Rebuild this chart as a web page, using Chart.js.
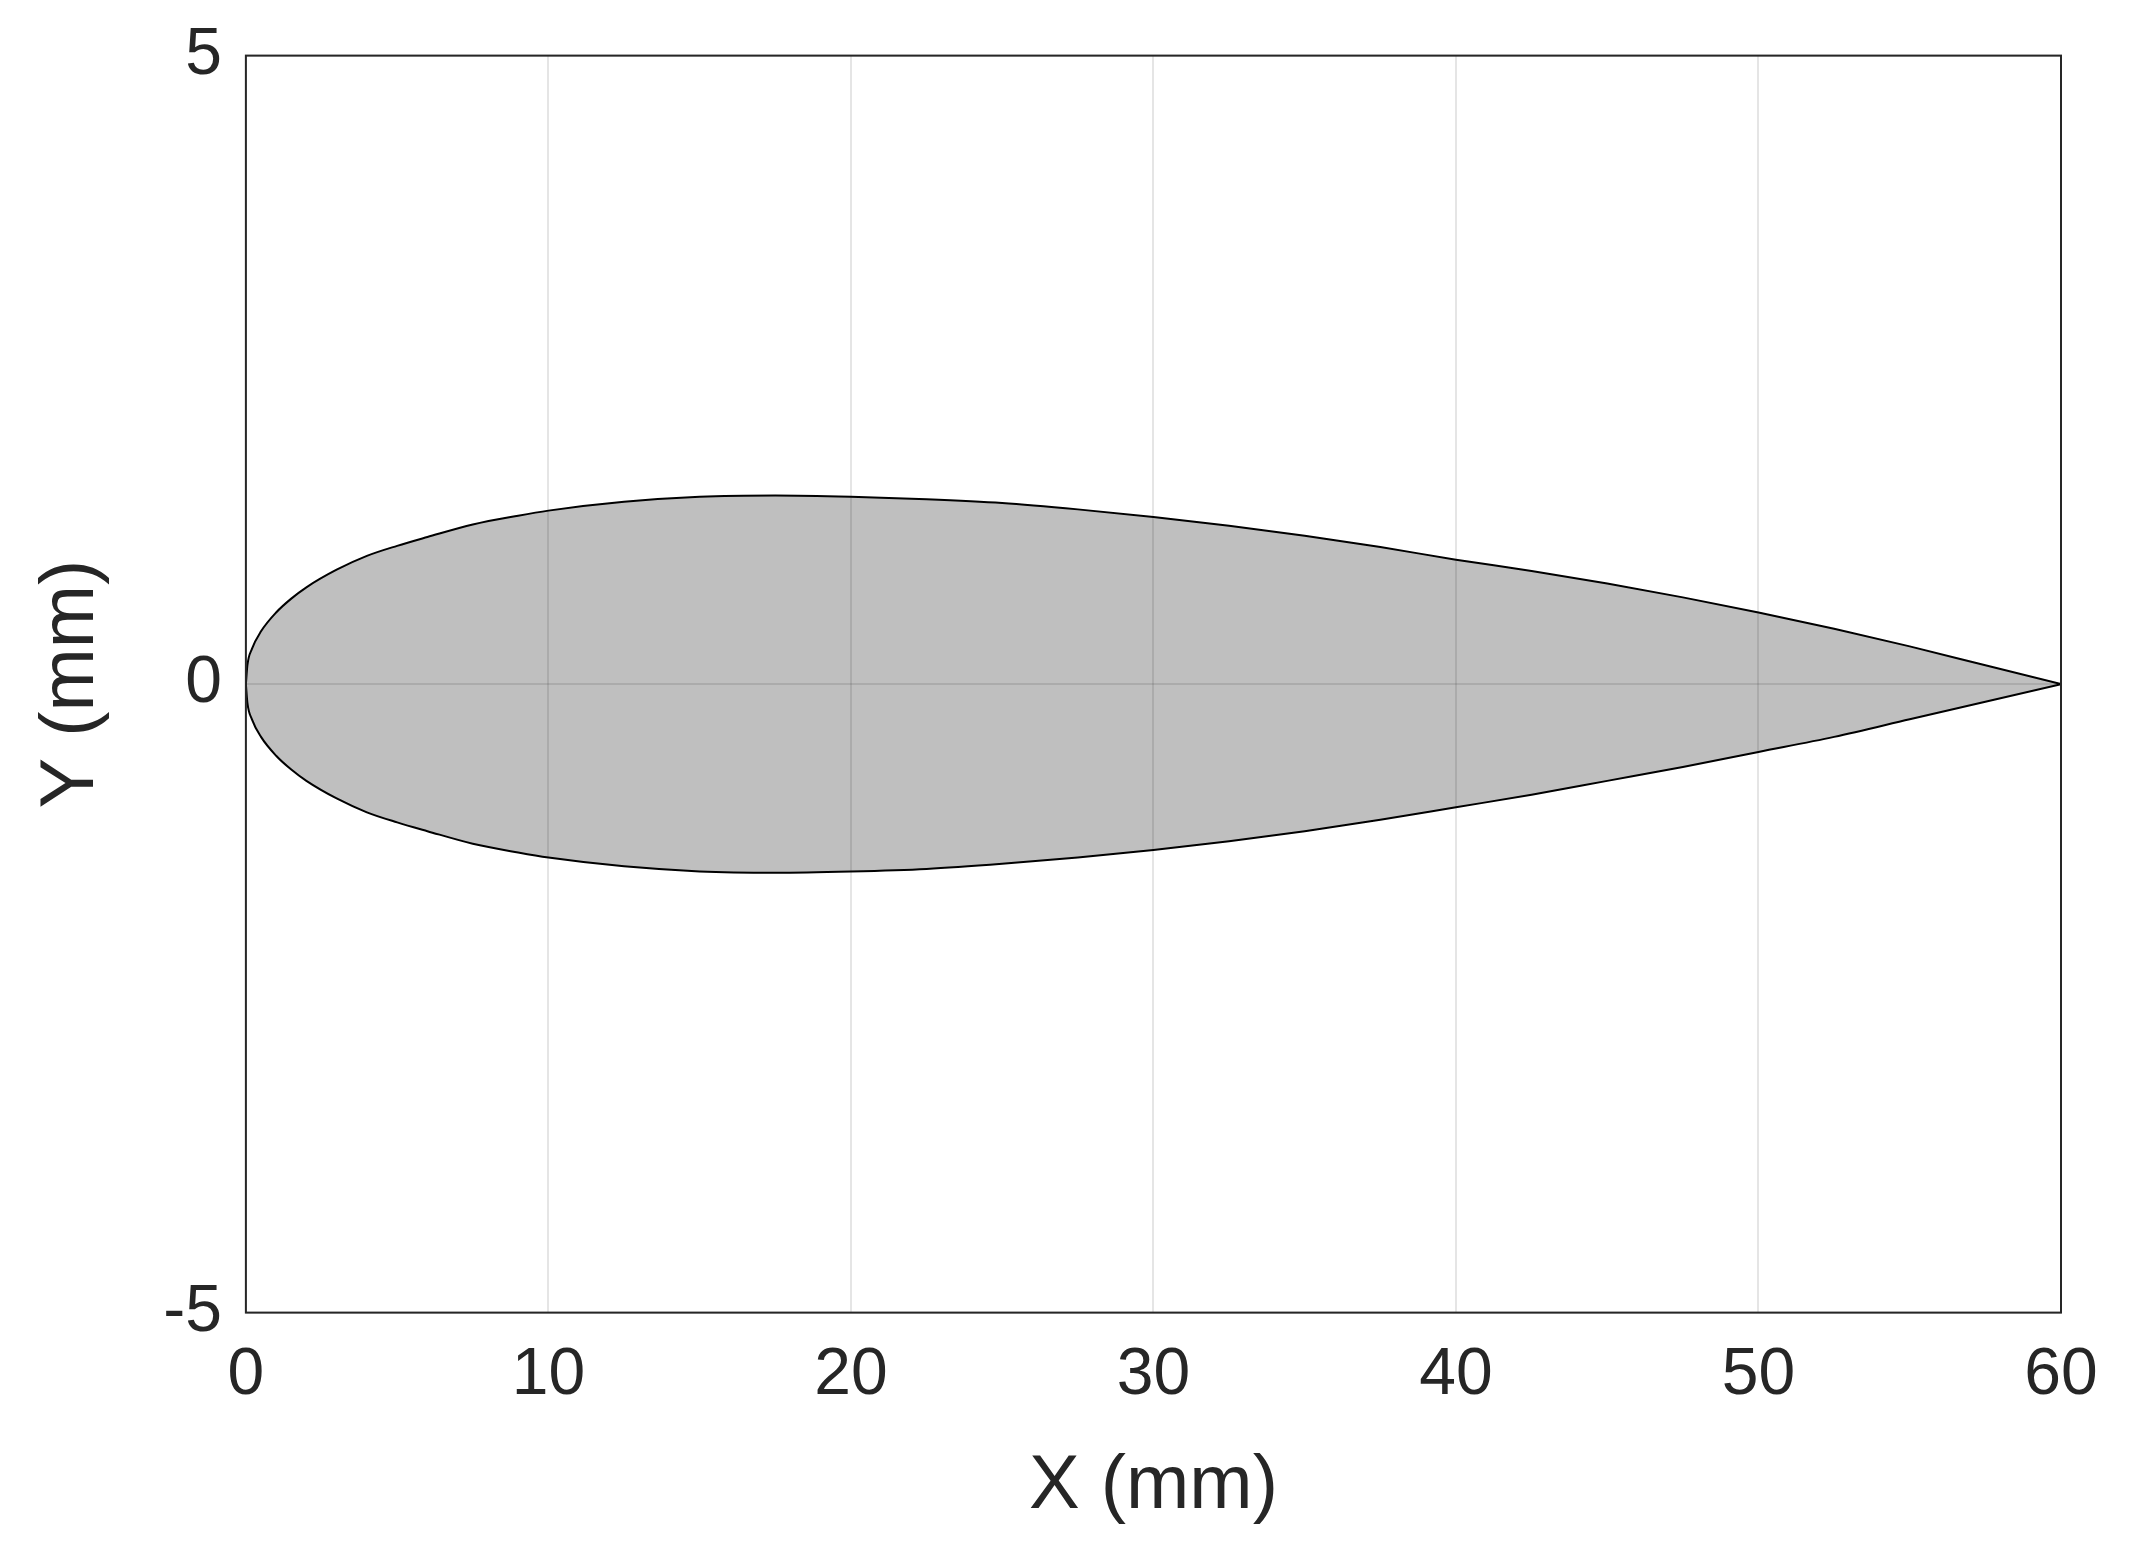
<!DOCTYPE html>
<html>
<head>
<meta charset="utf-8">
<script src="https://cdn.jsdelivr.net/npm/chart.js@4/dist/chart.umd.min.js"></script>
<style>
  html, body { margin: 0; padding: 0; background: #fff; }
  #wrap { width: 2139px; height: 1567px; }
</style>
</head>
<body>
<div id="wrap"><canvas id="c"></canvas></div>
<script>
// airfoil outline (mm)
const xPts = [0, 0.05, 0.2, 0.5, 1, 1.5, 2, 3, 4, 5, 6, 7.5, 9, 10, 12.5, 15, 17.5, 20, 22.5, 25, 27.5, 30, 32.5, 35, 37.5, 40, 42.5, 45, 47.5, 50, 52.5, 55, 57.5, 60];
const upperY = [0, 0.15, 0.28, 0.42, 0.57, 0.68, 0.77, 0.91, 1.02, 1.1, 1.17, 1.27, 1.34, 1.38, 1.45, 1.49, 1.5, 1.49, 1.47, 1.44, 1.39, 1.33, 1.26, 1.18, 1.09, 0.99, 0.9, 0.8, 0.69, 0.57, 0.44, 0.3, 0.15, 0];
const lowerY = [0, -0.15, -0.28, -0.42, -0.57, -0.68, -0.77, -0.91, -1.02, -1.1, -1.17, -1.27, -1.34, -1.38, -1.45, -1.49, -1.5, -1.49, -1.47, -1.43, -1.38, -1.32, -1.25, -1.17, -1.08, -0.98, -0.88, -0.77, -0.66, -0.54, -0.42, -0.28, -0.14, 0];
const xTicks = [0, 10, 20, 30, 40, 50, 60];
const yTicks = [-5, 0, 5];

const FONT = 'Liberation Sans, Arial, sans-serif';

// grid over the fill plus the dark box, as in the original
const boxPlugin = {
    id: 'box',
    afterDatasetsDraw(chart) {
        const a = chart.chartArea, ctx = chart.ctx;
        const sx = chart.scales.x, sy = chart.scales.y;
        ctx.save();
        ctx.strokeStyle = 'rgba(0,0,0,0.1)';
        ctx.lineWidth = 2;
        xTicks.forEach(v => {
            const p = Math.round(sx.getPixelForValue(v));
            ctx.beginPath(); ctx.moveTo(p, a.top); ctx.lineTo(p, a.bottom); ctx.stroke();
        });
        yTicks.forEach(v => {
            const p = Math.round(sy.getPixelForValue(v));
            ctx.beginPath(); ctx.moveTo(a.left, p); ctx.lineTo(a.right, p); ctx.stroke();
        });
        ctx.strokeStyle = '#262626';
        ctx.strokeRect(a.left, a.top, a.right - a.left, a.bottom - a.top);
        ctx.restore();
    }
};

const mk = ys => xPts.map((x, i) => ({ x: x, y: ys[i] }));

new Chart(document.getElementById('c').getContext('2d'), {
    type: 'scatter',
    data: {
        datasets: [
            { data: mk(upperY), showLine: true, fill: 'origin', backgroundColor: 'rgba(128,128,128,0.5)',
              borderColor: '#000', borderWidth: 2, pointRadius: 0, cubicInterpolationMode: 'monotone' },
            { data: mk(lowerY), showLine: true, fill: 'origin', backgroundColor: 'rgba(128,128,128,0.5)',
              borderColor: '#000', borderWidth: 2, pointRadius: 0, cubicInterpolationMode: 'monotone' }
        ]
    },
    options: {
        responsive: true,
        maintainAspectRatio: false,
        animation: false,
        layout: { padding: { top: 50, right: 78, left: 22, bottom: 30 } },
        plugins: { legend: { display: false }, tooltip: { enabled: false } },
        scales: {
            x: {
                min: 0, max: 60,
                afterBuildTicks: axis => { axis.ticks = xTicks.map(v => ({ value: v })); },
                grid: { display: false },
                border: { display: false },
                ticks: { color: '#262626', font: { family: FONT, size: 66 }, padding: 16, maxRotation: 0 },
                title: { display: true, text: 'X (mm)', color: '#262626', font: { family: FONT, size: 76 }, padding: { top: 10 } }
            },
            y: {
                min: -5, max: 5,
                afterBuildTicks: axis => { axis.ticks = yTicks.map(v => ({ value: v })); },
                grid: { display: false },
                border: { display: false },
                ticks: { color: '#262626', font: { family: FONT, size: 66 }, padding: 16 },
                title: { display: true, text: 'Y (mm)', color: '#262626', font: { family: FONT, size: 76 }, padding: { bottom: 30 } }
            }
        }
    },
    plugins: [boxPlugin]
});
</script>
</body>
</html>
